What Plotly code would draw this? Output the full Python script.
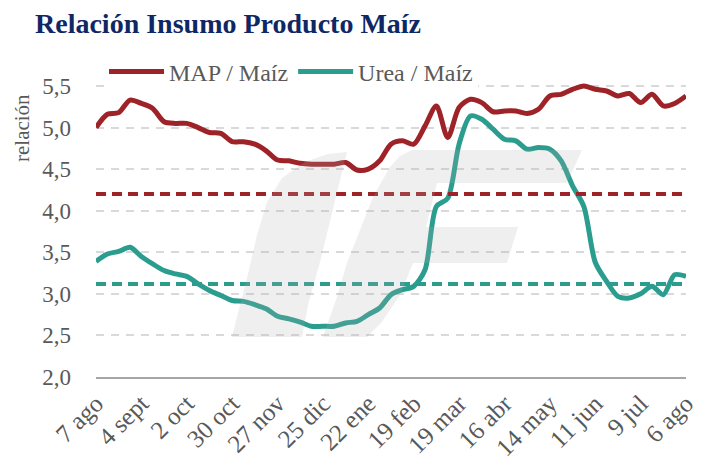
import plotly.graph_objects as go

# semanas (agosto a agosto), una etiqueta cada 4 semanas
semanas = list(range(53))
etiquetas_pos = list(range(0, 53, 4))
etiquetas = ['7 ago', '4 sept', '2 oct', '30 oct', '27 nov', '25 dic', '22 ene',
             '19 feb', '19 mar', '16 abr', '14 may', '11 jun', '9 jul', '6 ago']

map_maiz = [5.00, 5.16, 5.18, 5.33, 5.29, 5.23, 5.07, 5.05, 5.05, 5.00,
            4.94, 4.93, 4.83, 4.83, 4.80, 4.72, 4.61, 4.60, 4.57, 4.56,
            4.56, 4.56, 4.58, 4.49, 4.50, 4.60, 4.80, 4.84, 4.80, 5.02,
            5.26, 4.88, 5.24, 5.34, 5.30, 5.19, 5.20, 5.20, 5.17, 5.22,
            5.38, 5.40, 5.46, 5.50, 5.46, 5.44, 5.38, 5.41, 5.30, 5.40,
            5.26, 5.29, 5.38]

urea_maiz = [3.39, 3.48, 3.51, 3.56, 3.45, 3.36, 3.28, 3.24, 3.21, 3.12,
             3.04, 2.98, 2.92, 2.91, 2.87, 2.82, 2.73, 2.70, 2.66, 2.61,
             2.61, 2.61, 2.65, 2.67, 2.75, 2.83, 2.99, 3.05, 3.09, 3.29,
             4.05, 4.15, 4.80, 5.14, 5.10, 4.98, 4.86, 4.84, 4.74, 4.76,
             4.74, 4.60, 4.30, 4.05, 3.38, 3.15, 2.97, 2.95, 3.00, 3.09,
             2.99, 3.23, 3.21]

prom_map = 4.20
prom_urea = 3.12

rojo = '#9e2328'
verde = '#2a9d8f'
gris = '#595959'
fuente = 'Liberation Serif'

fig = go.Figure()

fig.add_trace(go.Scatter(x=semanas, y=map_maiz, name='MAP / Maíz', mode='lines',
                         line=dict(color=rojo, width=5, shape='spline', smoothing=0.8)))
fig.add_trace(go.Scatter(x=semanas, y=urea_maiz, name='Urea / Maíz', mode='lines',
                         line=dict(color=verde, width=5, shape='spline', smoothing=0.8)))

# promedios
fig.add_trace(go.Scatter(x=[semanas[0], semanas[-1] - 0.3], y=[prom_map, prom_map], mode='lines',
                         line=dict(color=rojo, width=4, dash='10px,6px'), showlegend=False))
fig.add_trace(go.Scatter(x=[semanas[0], semanas[-1] - 0.3], y=[prom_urea, prom_urea], mode='lines',
                         line=dict(color=verde, width=4, dash='10px,6px'), showlegend=False))

# la pagina tiene 8px de margen en el body
OFF = 8
W, H = 712 - OFF, 469 - OFF
# area de trazado en pixeles de pantalla
L, R, T, B = 96, 686, 81, 377


def trazo(puntos):
    p = ['{} {:.4f},{:.4f}'.format('M' if i == 0 else 'L', (x - L) / (R - L), (B - y) / (B - T))
         for i, (x, y) in enumerate(puntos)]
    return ' '.join(p) + ' Z'


# marca de agua (logo)
logo_j = [(347, 152), (334, 205), (320, 262), (308, 305), (302, 337), (232, 337), (240, 305),
          (249, 270), (257, 235), (267, 202), (282, 178), (305, 162), (328, 154)]
logo_f = [(412, 150), (582, 150), (567, 183), (437, 183), (426, 227), (518, 227), (507, 263),
          (413, 263), (400, 295), (382, 322), (367, 337), (323, 337), (337, 297), (347, 263),
          (360, 230), (373, 197), (390, 167), (400, 156)]
for pts in (logo_j, logo_f):
    fig.add_shape(type='path', path=trazo(pts), xref='paper', yref='paper',
                  fillcolor='#b0b0b0', opacity=0.2, line=dict(width=0), layer='above')

fig.add_annotation(text='relación', x=(22 - L) / (R - L), xref='paper', y=(B - 128) / (B - T),
                   yref='paper', xanchor='center', yanchor='middle', showarrow=False,
                   textangle=-90, font=dict(family=fuente, size=21, color=gris))

fig.update_layout(
    width=W, height=H,
    margin=dict(l=L - OFF, r=712 - R, t=T - OFF, b=469 - B, autoexpand=False),
    paper_bgcolor='white', plot_bgcolor='white',
    separators=',.',
    title=dict(text='<b>Relación Insumo Producto Maíz</b>', x=(35 - OFF) / W, xanchor='left',
               y=1 - (23 - OFF) / H, yanchor='middle',
               font=dict(family=fuente, size=28, color='#102766')),
    legend=dict(orientation='h', x=(104 - L) / (R - L), xanchor='left', y=(B - 72) / (B - T),
                yanchor='middle', bgcolor='white', font=dict(family=fuente, size=24, color=gris),
                itemwidth=55, tracegroupgap=0),
    showlegend=True,
)

fig.update_xaxes(range=[0, 52], tickmode='array', tickvals=etiquetas_pos, ticktext=etiquetas,
                 tickangle=-45, tickfont=dict(family=fuente, size=25, color=gris),
                 showgrid=False, zeroline=False, showline=True, linecolor='#a6a6a6', linewidth=2,
                 ticks='', automargin=False)
fig.update_yaxes(range=[2, 5.56], tickvals=[2, 2.5, 3, 3.5, 4, 4.5, 5, 5.5], tickformat='.1f',
                 tickfont=dict(family=fuente, size=23, color=gris), ticklabelstandoff=24,
                 showgrid=True, gridcolor='#d9d9d9', gridwidth=1.5, griddash='8px,7px',
                 zeroline=False, showline=False, ticks='', automargin=False)

fig.write_html('out.html')
